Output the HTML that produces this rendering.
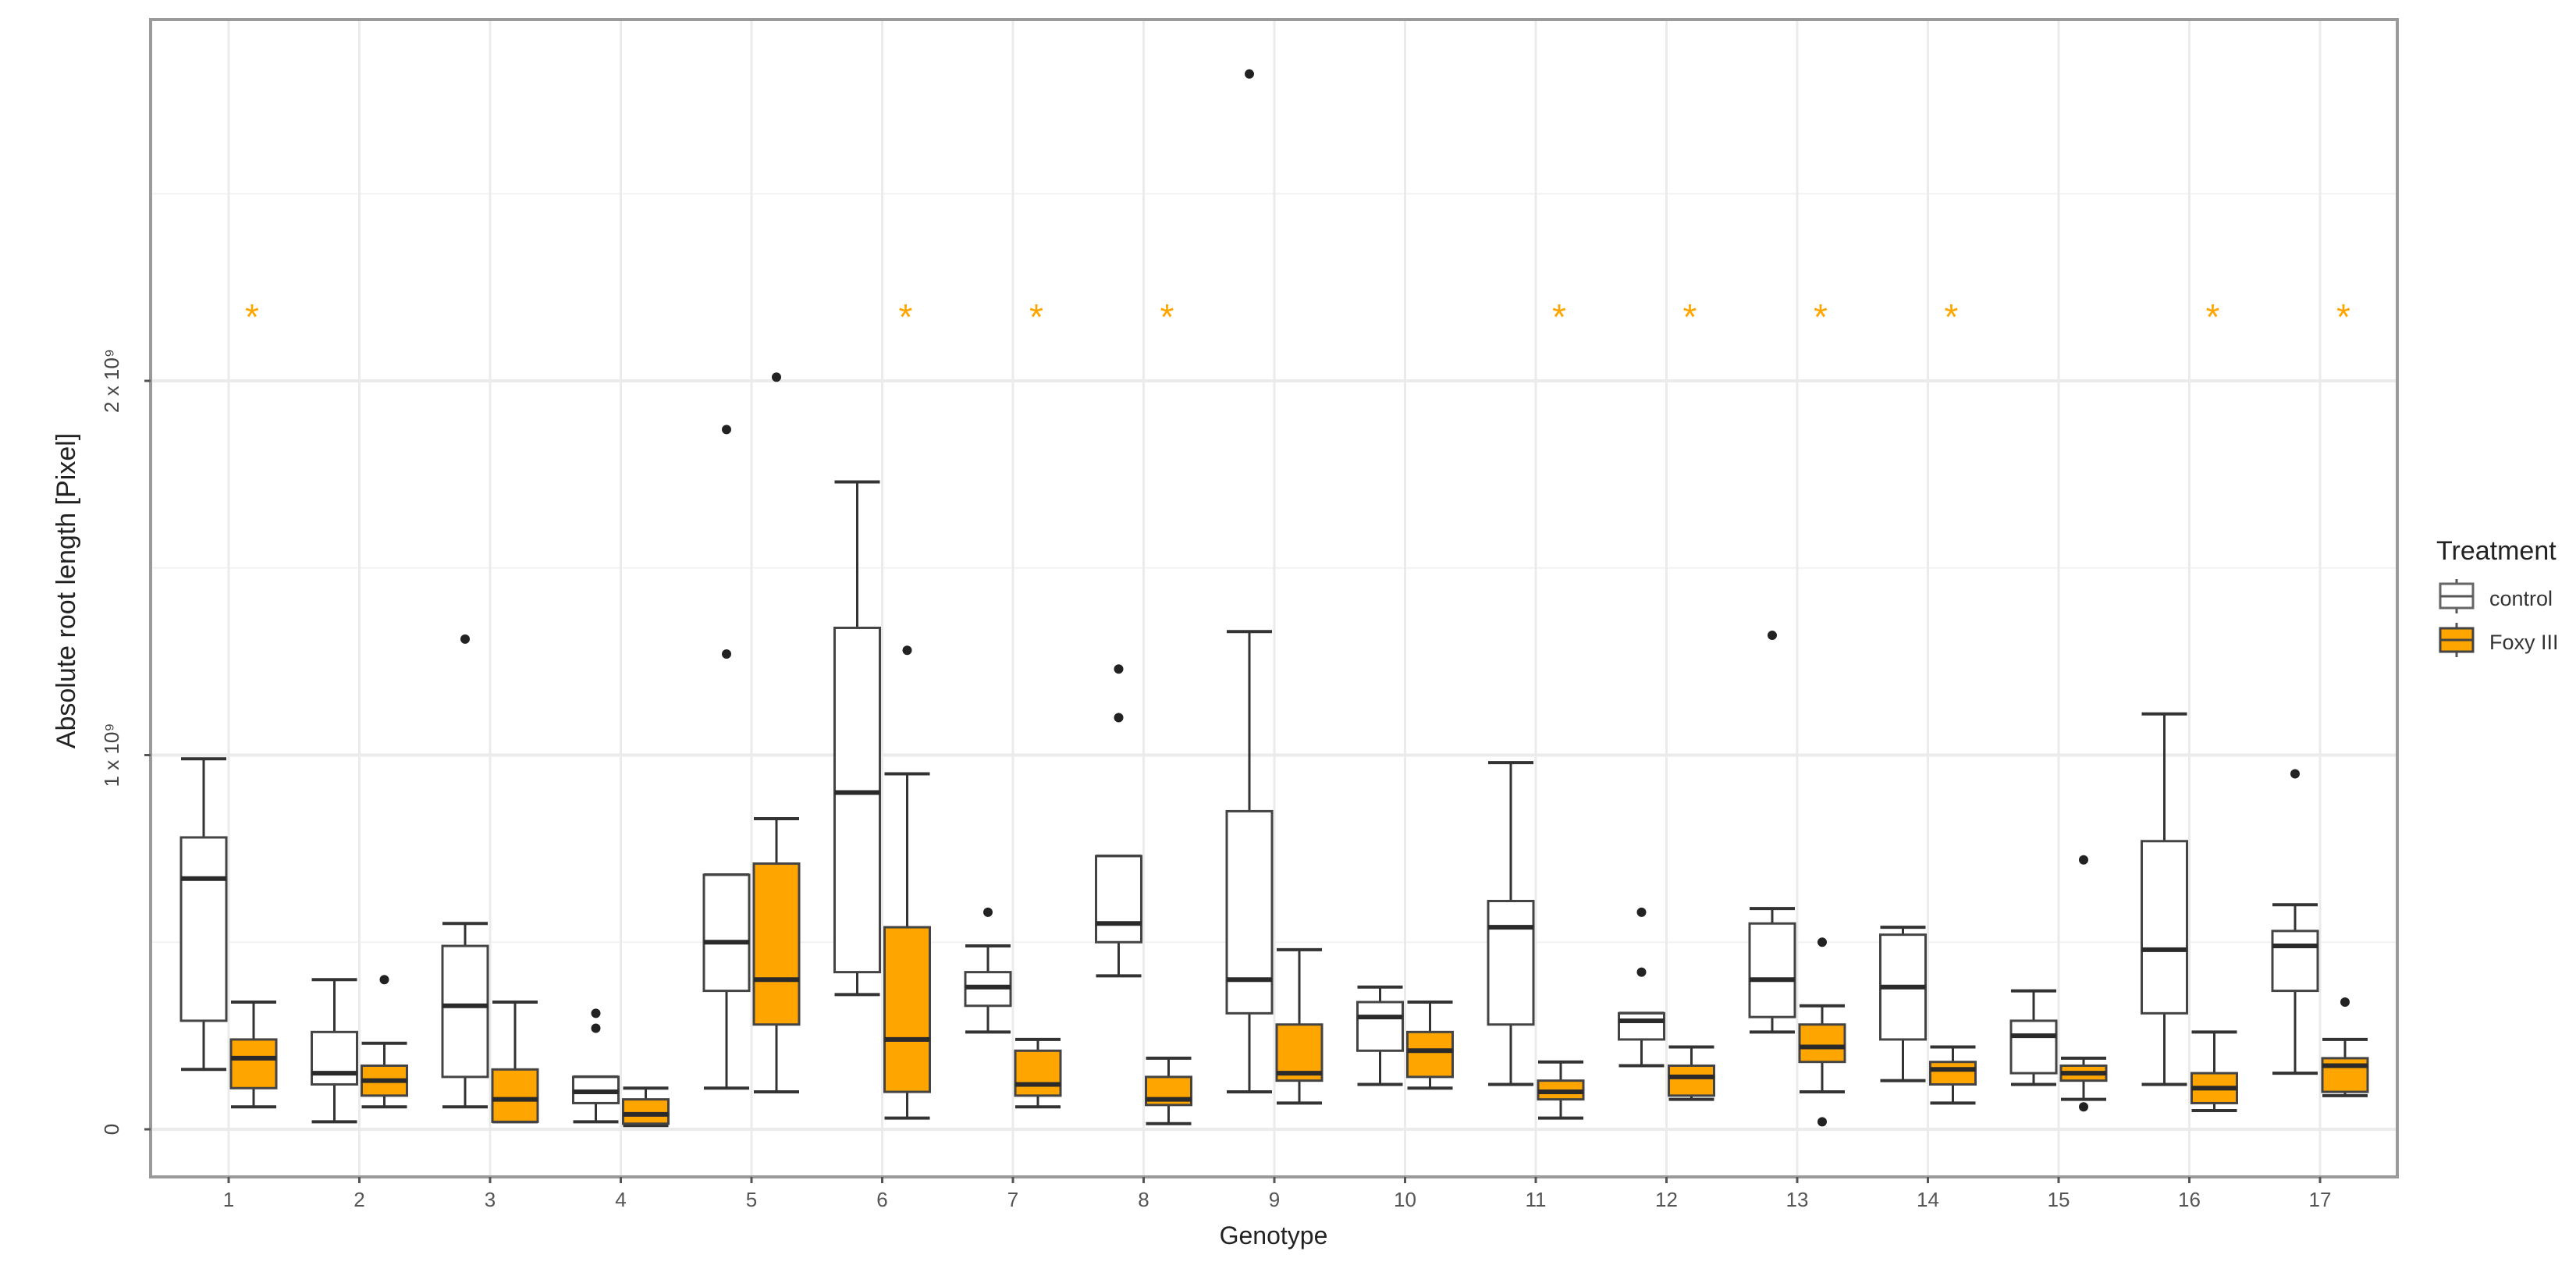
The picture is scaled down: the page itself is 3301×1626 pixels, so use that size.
<!DOCTYPE html>
<html><head><meta charset="utf-8"><style>
body{margin:0;background:#fff}
svg{display:block;font-family:"Liberation Sans",sans-serif}
</style></head><body>
<svg id="chart" width="3301" height="1626" xmlns="http://www.w3.org/2000/svg">
<rect x="0" y="0" width="3301" height="1626" fill="#fff"/>
<g id="grid"></g>
<g id="marks"></g>
<rect x="193" y="25" width="2879" height="1483" fill="none" stroke="#9a9a9a" stroke-width="4"/>
<g id="axes"></g>
<text x="1632" y="1594" font-size="32" fill="#222" text-anchor="middle">Genotype</text>
<text transform="translate(96,757) rotate(-90)" font-size="34" fill="#222" text-anchor="middle">Absolute root length [Pixel]</text>
<g>
<text x="3122" y="717" font-size="34" fill="#222">Treatment</text>
<g>
<line x1="3148" y1="742" x2="3148" y2="786" stroke="#555" stroke-width="3"/>
<rect x="3127" y="748" width="42" height="31" fill="#fff" stroke="#666" stroke-width="3"/>
<line x1="3127" y1="764" x2="3169" y2="764" stroke="#555" stroke-width="3"/>
<text x="3190" y="776" font-size="27" fill="#333">control</text>
</g>
<g>
<line x1="3148" y1="798" x2="3148" y2="842" stroke="#555" stroke-width="3"/>
<rect x="3127" y="805" width="42" height="30" fill="#FFA500" stroke="#444" stroke-width="3"/>
<line x1="3127" y1="820" x2="3169" y2="820" stroke="#444" stroke-width="3"/>
<text x="3190" y="832" font-size="27" fill="#333">Foxy III</text>
</g>
</g>
</svg>
<script>
const genotypes=[1,2,3,4,5,6,7,8,9,10,11,12,13,14,15,16,17];
// [low, q1, median, q3, high] in units of 1e9
const controlStats=[
[0.16,0.29,0.67,0.78,0.99],[0.02,0.12,0.15,0.26,0.40],[0.06,0.14,0.33,0.49,0.55],[0.02,0.07,0.10,0.14,0.14],
[0.11,0.37,0.50,0.68,0.68],[0.36,0.42,0.90,1.34,1.73],[0.26,0.33,0.38,0.42,0.49],[0.41,0.50,0.55,0.73,0.73],
[0.10,0.31,0.40,0.85,1.33],[0.12,0.21,0.30,0.34,0.38],[0.12,0.28,0.54,0.61,0.98],[0.17,0.24,0.29,0.31,0.31],
[0.26,0.30,0.40,0.55,0.59],[0.13,0.24,0.38,0.52,0.54],[0.12,0.15,0.25,0.29,0.37],[0.12,0.31,0.48,0.77,1.11],
[0.15,0.37,0.49,0.53,0.60]];
const foxyStats=[
[0.06,0.11,0.19,0.24,0.34],[0.06,0.09,0.13,0.17,0.23],[0.02,0.02,0.08,0.16,0.34],[0.01,0.015,0.04,0.08,0.11],
[0.10,0.28,0.40,0.71,0.83],[0.03,0.10,0.24,0.54,0.95],[0.06,0.09,0.12,0.21,0.24],[0.015,0.065,0.08,0.14,0.19],
[0.07,0.13,0.15,0.28,0.48],[0.11,0.14,0.21,0.26,0.34],[0.03,0.08,0.10,0.13,0.18],[0.08,0.09,0.14,0.17,0.22],
[0.10,0.18,0.22,0.28,0.33],[0.07,0.12,0.16,0.18,0.22],[0.08,0.13,0.15,0.17,0.19],[0.05,0.07,0.11,0.15,0.26],
[0.09,0.10,0.17,0.19,0.24]];
const controlOutliers=[[],[],[1.31],[0.31,0.27],[1.87,1.27],[],[0.58],[1.23,1.10],[2.82],[],[],[0.58,0.42],[1.32],[],[],[],[0.95]];
const foxyOutliers=[[],[0.40],[],[],[2.01],[1.28],[],[],[],[],[],[],[0.50,0.02],[],[0.72,0.06],[],[0.34]];
const significant=[1,6,7,8,11,12,13,14,16,17];
const yTicks=[0,1,2];
const yTickLabels=["0","1 x 10⁹","2 x 10⁹"];
const yMinor=[0.5,1.5,2.5];

const NS="http://www.w3.org/2000/svg";
const X=g=>293+(g-1)*167.5;
const Y=v=>1447-v*479.5;
function mk(parent,tag,attrs){const e=document.createElementNS(NS,tag);for(const k in attrs)e.setAttribute(k,attrs[k]);parent.appendChild(e);return e;}
const grid=document.getElementById('grid'),marks=document.getElementById('marks'),axes=document.getElementById('axes');
yMinor.forEach(v=>{const l=mk(grid,'line',{x1:193,x2:3072,y1:Y(v),y2:Y(v),stroke:'#f2f2f2','stroke-width':2});

});
yTicks.forEach((v,i)=>{const l=mk(grid,'line',{x1:193,x2:3072,y1:Y(v),y2:Y(v),stroke:'#ebebeb','stroke-width':4});


const t=mk(axes,'line',{x1:185,x2:193,y1:Y(v),y2:Y(v),stroke:'#555','stroke-width':3});


const tx=mk(axes,'text',{transform:`translate(152,${Y(v)}) rotate(-90)`,'font-size':26,fill:'#444','text-anchor':'middle'});
tx.textContent=yTickLabels[i];

});
genotypes.forEach(g=>{const l=mk(grid,'line',{x1:X(g),x2:X(g),y1:25,y2:1508,stroke:'#ebebeb','stroke-width':3});


const t=mk(axes,'line',{x1:X(g),x2:X(g),y1:1508,y2:1516,stroke:'#555','stroke-width':3});


const tx=mk(axes,'text',{x:X(g),y:1546,'font-size':26,fill:'#555','text-anchor':'middle'});
tx.textContent=g;

});
function box(cx,s,outs,fill,name){
 const gr=mk(marks,'g',{});
 
 
 const w=58,st='#333';
 mk(gr,'line',{x1:cx,x2:cx,y1:Y(s[0]),y2:Y(s[4]),stroke:st,'stroke-width':3});
 mk(gr,'line',{x1:cx-w/2,x2:cx+w/2,y1:Y(s[0]),y2:Y(s[0]),stroke:st,'stroke-width':4});
 mk(gr,'line',{x1:cx-w/2,x2:cx+w/2,y1:Y(s[4]),y2:Y(s[4]),stroke:st,'stroke-width':4});
 mk(gr,'rect',{x:cx-w/2,y:Y(s[3]),width:w,height:Math.max(1,Y(s[1])-Y(s[3])),fill:fill,stroke:'#444','stroke-width':3});
 mk(gr,'line',{x1:cx-w/2,x2:cx+w/2,y1:Y(s[2]),y2:Y(s[2]),stroke:'#2a2a2a','stroke-width':6});
 outs.forEach(o=>mk(gr,'circle',{cx:cx,cy:Y(o),r:6,fill:'#222'}));
}
genotypes.forEach((g,i)=>{
 box(X(g)-32,controlStats[i],controlOutliers[i],'#fff','box-control-'+g);
 box(X(g)+32,foxyStats[i],foxyOutliers[i],'#FFA500','box-foxy-'+g);
});
significant.forEach(g=>{const t=mk(marks,'text',{x:X(g)+30,y:422,'font-size':46,fill:'#FFA500','text-anchor':'middle'});
t.textContent='*';

});
</script>
</body></html>
